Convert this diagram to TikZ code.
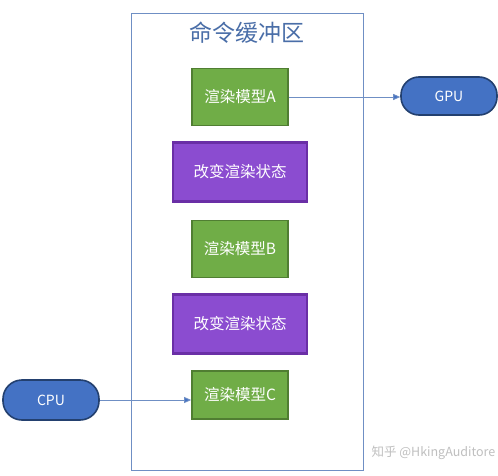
\documentclass[tikz,border=0pt]{standalone}
\usepackage{fontspec}
\setmainfont{Noto Sans CJK SC}
\usetikzlibrary{arrows.meta}
\definecolor{modelgreen}{HTML}{70AD47}
\definecolor{modelborder}{HTML}{507E32}
\definecolor{statepurple}{HTML}{8B4CD0}
\definecolor{stateborder}{HTML}{6A2FA6}
\definecolor{unitblue}{HTML}{4472C4}
\definecolor{unitborder}{HTML}{23406F}
\definecolor{bufline}{HTML}{6F8FC4}
\definecolor{buftitle}{HTML}{4A6EA8}
\tikzset{
  modelbox/.style={draw=modelborder,line width=1.8pt,fill=modelgreen,text=white,
    minimum width=96pt,minimum height=57pt,inner sep=0pt,font=\fontsize{15.5}{17}\selectfont},
  statebox/.style={draw=stateborder,line width=2.4pt,fill=statepurple,text=white,
    minimum width=134pt,minimum height=59pt,inner sep=0pt,font=\fontsize{15.5}{17}\selectfont},
  unitpill/.style={draw=unitborder,line width=1.6pt,fill=unitblue,text=white,
    rounded corners=18pt,minimum width=96pt,minimum height=38pt,inner sep=0pt,
    font=\fontsize{14}{16}\selectfont},
  link/.style={draw=bufline,line width=0.8pt,-{Triangle[length=7pt,width=6pt,fill=unitblue]}}
}
\begin{document}
\begin{tikzpicture}[x=1pt,y=-1pt]
\useasboundingbox (0,0) rectangle (498,476);
\fill[white] (0,0) rectangle (498,476);

% command buffer
\draw[bufline,line width=0.8pt] (131,13) rectangle (363,470);
\node[text=buftitle,font=\fontsize{23}{25}\selectfont] (buftitle) at (247,33) {命令缓冲区};

\node[modelbox] (modelA) at (240,97) {渲染模型A};
\node[statebox] (stateA) at (240,172) {改变渲染状态};
\node[modelbox] (modelB) at (240,249) {渲染模型B};
\node[statebox] (stateB) at (240,324) {改变渲染状态};
\node[modelbox,minimum height=48pt] (modelC) at (240,395) {渲染模型C};

\node[unitpill] (gpu) at (449,96) {GPU};
\node[unitpill,minimum height=40pt,rounded corners=19pt] (cpu) at (51,400) {CPU};

\draw[link] (modelA.east) -- (gpu.west |- modelA.east);
\draw[link] (cpu.east) -- (modelC.west |- cpu.east);

\node[text=black!25,font=\fontsize{12.5}{14}\selectfont,anchor=west] (mark) at (368,453) {知乎 @HkingAuditore};
\end{tikzpicture}
\end{document}
